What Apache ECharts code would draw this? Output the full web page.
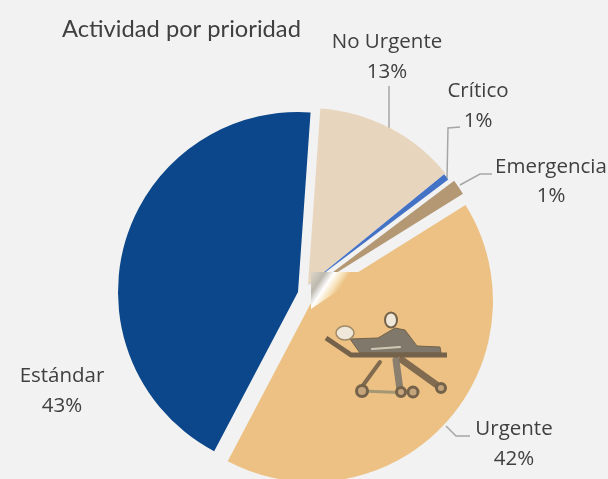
<!DOCTYPE html>
<html><head><meta charset="utf-8"><style>html,body{margin:0;padding:0;background:#f2f2f2}#c{width:608px;height:479px}</style>
<script src="https://cdn.jsdelivr.net/npm/echarts@6/dist/echarts.min.js"></script></head>
<body><div id="c"></div><script>
const categories=['No Urgente','Crítico','Emergencia','Urgente','Estándar'];
const values=[13,0.6,1.4,41.6,43.4];
const colors=['#e8d5bd','#4472c4','#b39873','#ecc183','#0b478a'];
const sliceCenters=[[308,285],[307,286],[312,288],[312,301],[298,292]];
const sliceRadii=[177,177,178,181,180];
const labelAnchors=[[387,57],[478,106],[551,181.5],[514,444],[62,391]];
const leaderLines=[[[389,128],[389,105],[389,86]],[[447,178],[448,128],[460,127]],[[460,185],[480,174],[492,174]],[[446,426],[456,436],[470,436]],null];
const chart=echarts.init(document.getElementById('c'));
const brown='#75624a',gray='#7f786b',pale='#efe8da';
const series=categories.map((_,k)=>({type:'pie',center:sliceCenters[k],radius:[0,sliceRadii[k]],startAngle:86,silent:true,z:2,
 data:categories.map((n,i)=>({name:n,value:values[i],itemStyle:{color:i===k?colors[i]:'rgba(0,0,0,0)'},
   label:{show:i===k},labelLine:{show:i===k&&!!leaderLines[k]}})),
 label:{formatter:p=>p.name+'\n'+Math.round(p.value)+'%',overflow:'none',fontFamily:'Open Sans',fontSize:20.5,lineHeight:29.5,color:'#404040',align:'center',verticalAlign:'middle'},
 labelLine:{lineStyle:{color:'#a6a6a6',width:1.5}},
 labelLayout:p=>{if(p.dataIndex!==k)return {};const a=labelAnchors[k];const o={x:a[0],y:a[1],align:'center',verticalAlign:'middle'};if(leaderLines[k])o.labelLinePoints=leaderLines[k];return o;}
}));
const seg=(x1,y1,x2,y2,c,w)=>({type:'line',z:6,silent:true,shape:{x1,y1,x2,y2},style:{stroke:c,lineWidth:w,lineCap:'round',opacity:.9}});
const wheel=(cx,cy,r)=>({type:'circle',z:7,silent:true,shape:{cx,cy,r},style:{fill:'#c4a47a',stroke:brown,lineWidth:3}});
chart.setOption({animation:false,backgroundColor:'#f2f2f2',
title:{text:'Actividad por prioridad',left:57,top:12,textStyle:{fontFamily:'Lato',fontSize:23.7,fontWeight:'normal',color:'#404040'}},
series,
graphic:[
 {type:'polygon',z:5,silent:true,shape:{points:[[311,272],[366,272],[311,309]]},style:{fill:{type:'linear',x:0,y:0,x2:1,y2:1,colorStops:[{offset:0,color:'#ded6c8'},{offset:.18,color:'#bdb9af'},{offset:.3,color:'#ffffff'},{offset:.42,color:'#f6dfb4'},{offset:.5,color:'#ecc183'},{offset:1,color:'#ecc183'}]}}},
 seg(380,362,361,388,brown,4),
 seg(402,360,441,388,brown,7),
 seg(396,360,400,390,gray,7),
 seg(362,391,412,393,'#9c9472',3),
 wheel(362,391,5.5),wheel(401,392,4.5),wheel(413,392,5),wheel(441,388,4.5),
 {type:'polygon',z:6,silent:true,shape:{points:[[350,339],[378,338],[395,328],[405,330],[417,346],[440,347],[441,353],[360,353]]},style:{fill:gray,stroke:brown,lineWidth:1}},
 {type:'polyline',z:7,silent:true,shape:{points:[[326,338],[351,355],[447,355]]},style:{stroke:brown,lineWidth:5,fill:'none',lineJoin:'round'}},
 seg(335,343,350,352,'#a89a80',1.5),seg(356,355,444,355,'#9a927f',2),
 seg(372,349,400,347,'#d8d0bd',2),
 {type:'ellipse',z:7,silent:true,shape:{cx:345,cy:333,rx:9,ry:7},style:{fill:pale,stroke:'#a08a68',lineWidth:1.5}},
 {type:'ellipse',z:7,silent:true,shape:{cx:391,cy:320,rx:6,ry:7.5},style:{fill:pale,stroke:brown,lineWidth:2}}
]});
</script></body></html>
